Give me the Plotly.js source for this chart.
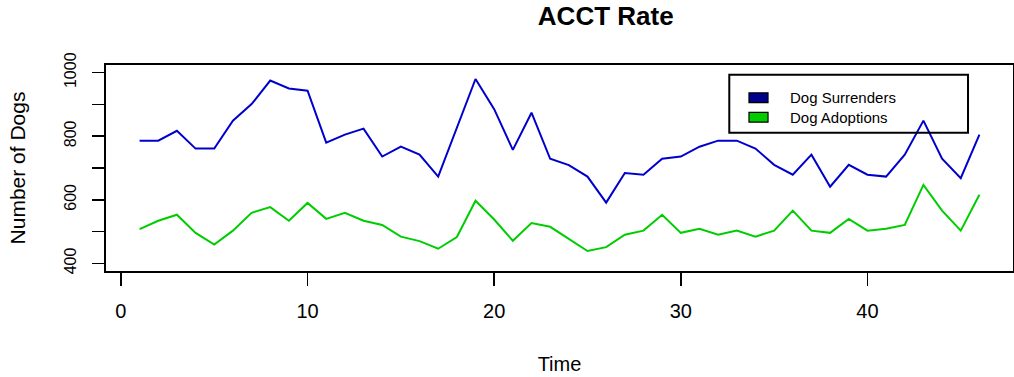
<!DOCTYPE html>
<html>
<head>
<meta charset="utf-8">
<script src="https://cdn.plot.ly/plotly-3.0.1.min.js"></script>
<style>
  html, body { margin: 0; padding: 0; background: #ffffff; }
  #chart { width: 1014px; height: 377px; }
</style>
</head>
<body>
<div id="chart"></div>
<script>
const time = [1,2,3,4,5,6,7,8,9,10,11,12,13,14,15,16,17,18,19,20,21,22,23,24,25,26,27,28,29,30,31,32,33,34,35,36,37,38,39,40,41,42,43,44,45,46];
const dogSurrenders = [786,786,817,761,761,849,901,975,950,943,780,805,824,736,767,742,673,826,980,885,757,874,729,709,673,591,684,679,729,736,767,786,786,761,710,679,742,641,710,679,673,742,849,729,668,805];
const dogAdoptions = [508,534,553,496,459,503,559,577,534,590,540,559,534,521,484,470,446,483,597,538,471,527,515,476,439,451,490,503,553,496,509,490,503,484,503,566,503,496,540,503,509,521,647,566,503,616];
const seriesNames = ['Dog Surrenders', 'Dog Adoptions'];
const lineColors = ['#0000CD', '#00CD00'];
const swatchColors = ['#00008B', '#00CD00'];
const xTickVals = [0, 10, 20, 30, 40];
const yTickVals = [400, 500, 600, 700, 800, 900, 1000];
const yTickText = ['400', '', '600', '', '800', '', '1000'];

const FONT = 'Liberation Sans, Arial, Helvetica, sans-serif';

const traces = [
  { x: time, y: dogSurrenders, type: 'scatter', mode: 'lines', name: seriesNames[0],
    line: { color: lineColors[0], width: 2 }, showlegend: false },
  { x: time, y: dogAdoptions, type: 'scatter', mode: 'lines', name: seriesNames[1],
    line: { color: lineColors[1], width: 2 }, showlegend: false }
];

// Legend (R-style): outer box, filled swatches with black border, text labels
const legendRows = [0.8413, 0.7461];
const shapes = [
  { type: 'rect', xref: 'paper', yref: 'paper', x0: 0.6872, x1: 0.9504, y0: 0.6714, y1: 0.9529,
    line: { color: '#000', width: 2 }, fillcolor: 'rgba(0,0,0,0)' }
];
const annotations = [];
seriesNames.forEach((nm, i) => {
  shapes.push({ type: 'rect', xref: 'paper', yref: 'paper',
    x0: 0.7089, x1: 0.7299, y0: legendRows[i] - 0.0235, y1: legendRows[i] + 0.0235,
    line: { color: '#000', width: 1.2 }, fillcolor: swatchColors[i] });
  annotations.push({ xref: 'paper', yref: 'paper', x: 0.7519, y: legendRows[i],
    xanchor: 'left', yanchor: 'middle', showarrow: false, text: nm,
    font: { family: FONT, size: 15, color: '#000' } });
});

const layout = {
  width: 1014, height: 377,
  margin: { l: 106, r: 1, t: 65, b: 106 },
  paper_bgcolor: '#ffffff', plot_bgcolor: '#ffffff',
  font: { family: FONT, color: '#000000' },
  showlegend: false,
  title: { text: 'ACCT Rate', font: { family: FONT, size: 26, weight: 'bold', color: '#000' },
           x: 0.551, xanchor: 'center', xref: 'paper', y: 0.9576, yanchor: 'middle', yref: 'container' },
  xaxis: {
    range: [-0.8, 47.8], tickmode: 'array', tickvals: xTickVals,
    showgrid: false, zeroline: false, showline: true, mirror: true, linecolor: '#000', linewidth: 2,
    ticks: 'outside', ticklen: 13, tickwidth: 1.5, tickcolor: '#000',
    tickfont: { family: FONT, size: 20, color: '#000' }, ticklabelstandoff: 8,
    title: { text: 'Time', font: { family: FONT, size: 20, color: '#000' }, standoff: 36 }
  },
  yaxis: {
    range: [376, 1024], tickmode: 'array', tickvals: yTickVals, ticktext: yTickText,
    showgrid: false, zeroline: false, showline: true, mirror: true, linecolor: '#000', linewidth: 2,
    ticks: 'outside', ticklen: 12, tickwidth: 1.5, tickcolor: '#000', tickangle: -90,
    tickfont: { family: FONT, size: 16, color: '#000' }, ticklabelstandoff: 10,
    title: { text: 'Number of Dogs', font: { family: FONT, size: 21, color: '#000' }, standoff: 30 }
  },
  shapes: shapes,
  annotations: annotations
};

Plotly.newPlot('chart', traces, layout, { displayModeBar: false, staticPlot: true });
</script>
</body>
</html>
